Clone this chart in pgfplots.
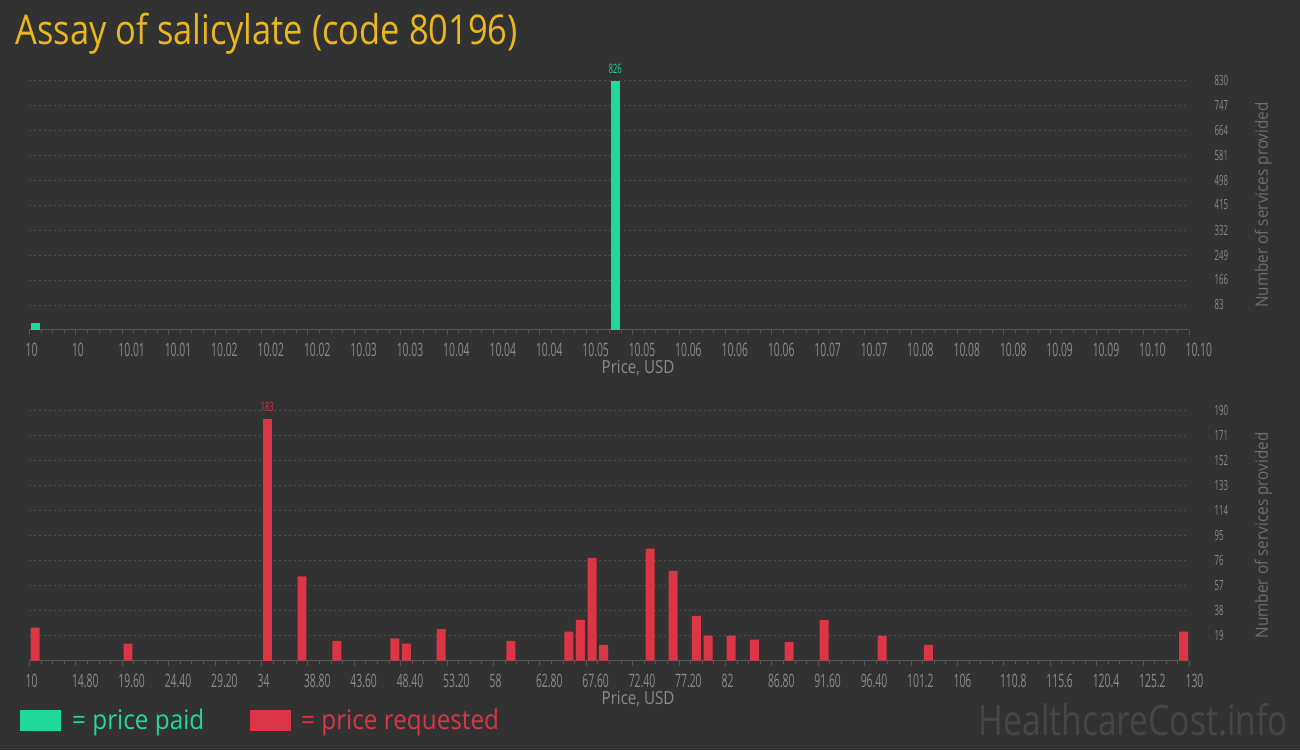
\documentclass[border=0pt]{standalone}
\usepackage{pgfplots}
\pgfplotsset{compat=1.18}
\usepackage{fontspec}
\setmainfont{Open Sans}
\newfontfamily\titlefont[FakeStretch=0.84]{Open Sans}
\newfontfamily\markfont[FakeStretch=0.8]{Open Sans}
\newfontfamily\tickfont[FakeStretch=0.56]{Open Sans}
\newfontfamily\labfont[FakeStretch=0.84]{Open Sans}
\newfontfamily\legfont[FakeStretch=0.9]{Open Sans}
\newfontfamily\ylabfont[FakeStretch=0.9]{Open Sans}

\definecolor{bgcol}{HTML}{323232}
\definecolor{pgreen}{HTML}{20D89A}
\definecolor{pred}{HTML}{DC3545}
\definecolor{titlecol}{HTML}{EBB81C}
\definecolor{tickgray}{HTML}{8A8A8A}
\definecolor{ylabgray}{HTML}{6E6E6E}
\definecolor{axisgray}{HTML}{575757}
\definecolor{gridgray}{HTML}{4E4E4E}
\definecolor{markgray}{HTML}{474747}

\pgfplotsset{
  hcchart/.style={
    scale only axis,
    width=1160pt,
    anchor=south west,
    ybar, bar shift=0pt,
    axis x line*=bottom,
    axis y line*=right,
    x axis line style={-, color=axisgray, line width=1pt},
    y axis line style={draw=none},
    ytick style={draw=none},
    xtick style={color=axisgray, line width=0.8pt},
    tick align=outside,
    major tick length=5pt,
    minor tick length=3pt,
    minor x tick num=3,
    ymajorgrids,
    major grid style={color=gridgray, dash pattern=on 2pt off 3pt, line width=0.8pt},
    /pgf/number format/assume math mode=true,
    xticklabel style={font=\tickfont\fontsize{18.5}{18.5}\selectfont, text=tickgray,
      anchor=north west, inner sep=0pt, xshift=-4pt, yshift=-8pt},
    yticklabel style={font=\tickfont\fontsize{14}{14}\selectfont, text=tickgray,
      anchor=west, inner sep=0pt, xshift=20pt},
    xlabel={Price, USD},
    xlabel style={font=\labfont\fontsize{18}{18}\selectfont, text=tickgray,
      at={(rel axis cs:0.5247,0)}, anchor=north, inner sep=0pt, yshift=-30.5pt},
    ylabel={Number of services provided},
    ylabel style={font=\ylabfont\fontsize{17}{17}\selectfont, text=ylabgray,
      at={(rel axis cs:1.0638,0.5)}, anchor=center, inner sep=0pt},
    every node near coord/.append style={font=\tickfont\fontsize{13}{13}\selectfont,
      inner sep=0pt, yshift=7pt},
    clip=false,
  }
}

\begin{document}
\begin{tikzpicture}
\fill[bgcol, use as bounding box] (0,0) rectangle (1300pt,750pt);

\node[anchor=base west, inner sep=0pt, text=titlecol,
  font=\titlefont\fontsize{41}{41}\selectfont] at (15.5pt,705.7pt)
  {Assay of salicylate (code 80196)};

% price paid
\begin{axis}[hcchart,
  at={(29.4pt,420pt)}, height=250pt,
  xmin=10, xmax=10.1, ymin=0, ymax=830,
  bar width=0.00078,
  xtick={10,10.004,10.008,10.012,10.016,10.02,10.024,10.028,10.032,10.036,10.04,10.044,10.048,
    10.052,10.056,10.06,10.064,10.068,10.072,10.076,10.08,10.084,10.088,10.092,10.096,10.1},
  xticklabels={10,10,10.01,10.01,10.02,10.02,10.02,10.03,10.03,10.04,10.04,10.04,10.05,
    10.05,10.06,10.06,10.06,10.07,10.07,10.08,10.08,10.08,10.09,10.09,10.10,10.10},
  ytick={83,166,249,332,415,498,581,664,747,830},
]
\addplot[fill=pgreen, draw=none] coordinates {(10.0005,24)};
\addplot[fill=pgreen, draw=none, nodes near coords,
  every node near coord/.append style={text=pgreen}] coordinates {(10.0505,826)};
\end{axis}

% price requested
\begin{axis}[hcchart,
  at={(29.4pt,89.3pt)}, height=250.7pt,
  xmin=10, xmax=130, ymin=0, ymax=190,
  bar width=0.93,
  xtick={10,14.8,19.6,24.4,29.2,34,38.8,43.6,48.4,53.2,58,62.8,67.6,72.4,77.2,82,86.8,
    91.6,96.4,101.2,106,110.8,115.6,120.4,125.2,130},
  xticklabels={10,14.80,19.60,24.40,29.20,34,38.80,43.60,48.40,53.20,58,62.80,67.60,72.40,
    77.20,82,86.80,91.60,96.40,101.2,106,110.8,115.6,120.4,125.2,130},
  ytick={19,38,57,76,95,114,133,152,171,190},
]
\addplot[fill=pred, draw=none] coordinates {
  (10.6,25) (20.2,13) (38.2,64) (41.8,15) (47.8,17) (49.0,13) (52.6,24)
  (59.8,15) (65.8,22) (67.0,31) (68.2,78) (69.4,12) (74.2,85) (76.6,68)
  (79.0,34) (80.2,19) (82.6,19) (85.0,16) (88.6,14) (92.2,31) (98.2,19)
  (103.0,12) (129.4,22)
};
\addplot[fill=pred, draw=none, nodes near coords,
  every node near coord/.append style={text=pred}] coordinates {(34.6,183)};
\end{axis}

% legend
\fill[pgreen] (20pt,19pt) rectangle (61pt,40pt);
\node[anchor=base west, inner sep=0pt, text=pgreen,
  font=\legfont\fontsize{27}{27}\selectfont] at (72pt,21pt) {= price paid};
\fill[pred] (250pt,19pt) rectangle (291pt,40pt);
\node[anchor=base west, inner sep=0pt, text=pred,
  font=\legfont\fontsize{27}{27}\selectfont] at (301pt,21pt) {= price requested};

\node[anchor=base east, inner sep=0pt, text=markgray,
  font=\markfont\fontsize{42}{42}\selectfont] at (1288pt,15pt) {HealthcareCost.info};
\end{tikzpicture}
\end{document}
